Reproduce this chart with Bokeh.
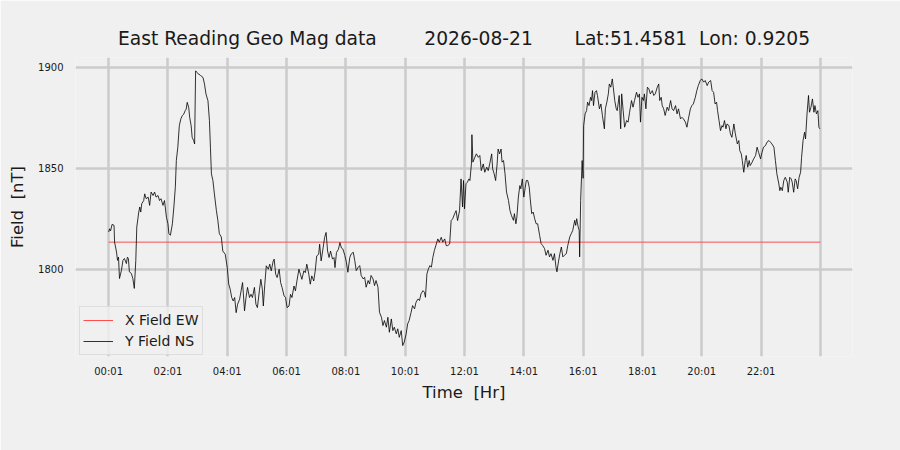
from bokeh.plotting import figure
from bokeh.models import Range1d, FixedTicker
from bokeh.embed import file_html
from bokeh.resources import INLINE

NB = "\u00a0"
title_text = ("East Reading Geo Mag data" + NB * 8 + "2026-08-21" + NB * 7 +
              "Lat:51.4581" + NB * 2 + "Lon: 0.9205")

# Tick positions (minutes after 00:01) and labels
tick_minutes = [0, 120, 240, 360, 480, 600, 720, 840, 960, 1080, 1200, 1320, 1440]
tick_labels = ["00:01", "02:01", "04:01", "06:01", "08:01", "10:01", "12:01",
               "14:01", "16:01", "18:01", "20:01", "22:01", ""]
y_ticks = [1800, 1850, 1900]

# X Field EW (constant reference line)
x_field_minutes = [0, 1440]
x_field_values = [1813.4, 1813.4]

# Y Field NS trace, minutes after 00:01 and nT values
y_field_minutes = [
    0, 2, 4, 7, 11, 12, 16, 18, 20, 22, 26, 29, 32, 36, 38, 40, 42, 46, 49, 52,
    55, 57, 61, 63, 65, 67, 71, 73, 76, 80, 83, 86, 90, 93, 96, 100, 103, 106, 110, 113,
    117, 120, 122, 125, 129, 132, 135, 137, 140, 143, 146, 149, 152, 155, 157, 159, 162, 164, 167, 169,
    172, 174, 176, 179, 182, 185, 187, 191, 194, 197, 201, 204, 206, 208, 211, 214, 218, 221, 224, 228,
    231, 236, 240, 243, 246, 249, 252, 255, 258, 261, 265, 268, 271, 275, 278, 281, 285, 288, 291, 295,
    298, 301, 305, 308, 311, 313, 316, 319, 323, 326, 329, 333, 335, 338, 341, 345, 348, 351, 355, 358,
    361, 365, 368, 371, 375, 378, 381, 385, 388, 391, 395, 398, 401, 405, 408, 411, 415, 418, 421, 425,
    427, 430, 433, 437, 440, 443, 446, 449, 453, 456, 458, 461, 465, 468, 471, 474, 478, 481, 484, 488,
    491, 495, 498, 501, 505, 508, 511, 515, 518, 521, 525, 528, 531, 535, 538, 541, 545, 548, 552, 555,
    558, 562, 565, 568, 572, 575, 578, 582, 585, 588, 592, 595, 598, 602, 605, 608, 612, 615, 619, 622,
    626, 629, 632, 636, 639, 641, 644, 647, 650, 653, 656, 659, 663, 666, 669, 673, 676, 680, 683, 686,
    690, 693, 696, 700, 703, 706, 710, 713, 714, 716, 718, 720, 723, 726, 729, 731, 734, 735, 737, 741,
    744, 748, 751, 754, 758, 761, 765, 768, 771, 775, 777, 780, 783, 786, 788, 791, 794, 796, 799, 802,
    805, 809, 812, 815, 819, 821, 824, 826, 829, 832, 834, 837, 840, 843, 845, 848, 851, 853, 856, 859,
    862, 865, 868, 872, 875, 878, 882, 885, 889, 892, 895, 899, 902, 905, 907, 910, 913, 916, 919, 922,
    926, 929, 933, 936, 939, 943, 945, 947, 950, 952, 953, 955, 958, 960, 961, 964, 967, 969, 972, 975,
    977, 979, 981, 984, 987, 989, 993, 996, 999, 1003, 1005, 1008, 1011, 1013, 1016, 1019, 1021, 1024, 1027, 1029,
    1033, 1036, 1038, 1041, 1044, 1048, 1051, 1054, 1058, 1061, 1064, 1068, 1071, 1074, 1076, 1079, 1082, 1084, 1087, 1090,
    1093, 1096, 1100, 1103, 1106, 1110, 1113, 1115, 1118, 1120, 1123, 1126, 1130, 1133, 1137, 1140, 1143, 1147, 1150, 1153,
    1157, 1160, 1163, 1167, 1170, 1173, 1177, 1180, 1183, 1187, 1190, 1193, 1197, 1200, 1204, 1207, 1211, 1214, 1218, 1221,
    1224, 1227, 1230, 1232, 1235, 1238, 1241, 1243, 1246, 1249, 1251, 1255, 1258, 1261, 1265, 1268, 1272, 1275, 1277, 1280,
    1282, 1285, 1288, 1290, 1293, 1296, 1298, 1302, 1305, 1309, 1312, 1315, 1319, 1322, 1325, 1329, 1332, 1336, 1339, 1342,
    1346, 1349, 1352, 1356, 1358, 1360, 1363, 1366, 1369, 1373, 1375, 1378, 1381, 1383, 1386, 1389, 1391, 1394, 1397, 1400,
    1402, 1405, 1408, 1410, 1413, 1416, 1418, 1421, 1424, 1427, 1429, 1432, 1435, 1437, 1439,
]
y_field_values = [
    1818.4, 1820.0, 1819.0, 1822.2, 1821.7, 1813.5, 1808.5, 1804.4, 1806.0, 1795.4, 1799.5, 1804.4, 1805.3, 1802.8, 1806.0, 1805.3, 1798.7, 1797.9, 1795.4, 1790.5,
    1804.4, 1820.9, 1828.3, 1830.8, 1828.3, 1832.4, 1834.0, 1837.3, 1834.9, 1835.7, 1831.6, 1838.2, 1836.5, 1838.2, 1835.7, 1836.5, 1834.0, 1834.9, 1831.6, 1834.0,
    1825.8, 1822.5, 1817.6, 1816.8, 1822.5, 1830.8, 1840.6, 1853.8, 1860.4, 1871.0, 1874.3, 1876.0, 1876.8, 1878.5, 1879.3, 1882.6, 1880.1, 1875.2, 1871.0, 1865.3,
    1863.7, 1862.0, 1898.2, 1897.4, 1896.5, 1896.2, 1895.7, 1894.9, 1891.6, 1886.7, 1883.4, 1873.5, 1860.4, 1847.2, 1843.9, 1837.3, 1829.1, 1824.2, 1817.6, 1816.0,
    1809.0, 1807.4, 1800.8, 1792.6, 1790.1, 1786.0, 1784.3, 1786.0, 1778.5, 1782.7, 1785.1, 1789.3, 1793.4, 1779.4, 1786.0, 1791.0, 1786.0, 1787.6, 1786.0, 1791.0,
    1782.7, 1781.0, 1789.3, 1795.0, 1790.1, 1781.8, 1792.6, 1801.7, 1800.0, 1802.5, 1799.2, 1804.1, 1805.0, 1797.5, 1795.9, 1800.0, 1793.4, 1790.9, 1786.8, 1786.0,
    1781.0, 1781.8, 1787.6, 1786.0, 1791.7, 1789.3, 1794.2, 1800.0, 1797.5, 1795.0, 1799.2, 1798.3, 1802.5, 1797.5, 1792.6, 1796.7, 1794.2, 1799.2, 1806.6, 1807.4,
    1812.4, 1804.1, 1809.0, 1815.7, 1818.2, 1809.0, 1805.8, 1809.0, 1805.0, 1805.8, 1800.8, 1808.3, 1809.9, 1813.2, 1810.5, 1810.0, 1806.8, 1803.5, 1798.5, 1805.9,
    1807.6, 1808.4, 1804.3, 1799.3, 1801.0, 1801.8, 1796.9, 1795.2, 1796.0, 1791.1, 1794.4, 1792.7, 1796.9, 1795.2, 1791.9, 1794.4, 1791.1, 1778.7, 1776.2, 1772.1,
    1774.6, 1771.3, 1776.2, 1768.8, 1775.4, 1769.6, 1771.3, 1768.0, 1770.5, 1766.3, 1769.6, 1762.2, 1763.9, 1768.0, 1772.9, 1774.6, 1778.7, 1782.0, 1780.4, 1783.7,
    1785.3, 1784.5, 1787.8, 1789.4, 1788.6, 1786.1, 1797.7, 1800.2, 1801.8, 1801.0, 1805.9, 1809.2, 1812.5, 1815.0, 1813.4, 1815.8, 1813.4, 1815.0, 1811.7, 1811.7,
    1812.5, 1824.1, 1824.9, 1827.4, 1829.0, 1824.1, 1829.0, 1844.7, 1840.6, 1830.8, 1843.9, 1829.9, 1842.3, 1843.1, 1844.7, 1843.9, 1852.1, 1866.6, 1853.0, 1855.4,
    1857.1, 1855.4, 1856.3, 1848.8, 1852.1, 1848.0, 1850.5, 1848.8, 1852.1, 1857.1, 1849.7, 1847.2, 1843.9, 1852.1, 1859.5, 1857.1, 1859.5, 1853.0, 1853.8, 1847.2,
    1838.2, 1834.0, 1829.1, 1826.6, 1824.2, 1827.5, 1822.5, 1825.8, 1835.7, 1841.4, 1839.8, 1844.7, 1835.7, 1840.6, 1843.9, 1843.9, 1840.6, 1834.9, 1827.5, 1828.3,
    1825.0, 1822.5, 1822.5, 1816.8, 1812.7, 1811.8, 1810.2, 1806.9, 1809.4, 1806.1, 1807.7, 1804.4, 1807.7, 1801.2, 1798.7, 1803.6, 1807.7, 1811.0, 1806.1, 1806.9,
    1807.7, 1811.8, 1816.0, 1817.6, 1819.2, 1824.2, 1821.7, 1825.0, 1820.9, 1819.2, 1806.1, 1834.0, 1853.8, 1845.0, 1871.0, 1876.9, 1878.5, 1882.7, 1881.0, 1885.1,
    1883.5, 1888.4, 1881.0, 1887.6, 1888.4, 1886.0, 1879.4, 1881.8, 1876.1, 1869.5, 1879.4, 1882.7, 1886.8, 1891.7, 1890.1, 1894.2, 1890.1, 1883.5, 1879.4, 1878.5,
    1886.0, 1869.5, 1886.8, 1878.5, 1870.3, 1873.6, 1872.8, 1877.7, 1883.5, 1880.2, 1883.5, 1887.6, 1885.1, 1886.8, 1872.8, 1885.1, 1883.5, 1886.8, 1879.4, 1890.1,
    1889.3, 1886.8, 1888.4, 1886.0, 1886.8, 1890.1, 1891.7, 1883.5, 1885.1, 1881.0, 1879.4, 1876.1, 1880.2, 1878.5, 1883.5, 1879.4, 1878.5, 1881.0, 1876.9, 1879.4,
    1874.4, 1875.2, 1874.4, 1872.8, 1870.3, 1874.4, 1879.4, 1881.0, 1881.8, 1885.1, 1888.4, 1890.9, 1893.4, 1894.2, 1892.6, 1893.4, 1890.9, 1892.6, 1893.4, 1888.4,
    1887.6, 1881.8, 1882.7, 1878.5, 1873.6, 1868.6, 1871.1, 1870.3, 1873.6, 1869.5, 1871.9, 1871.1, 1867.0, 1865.3, 1871.9, 1867.0, 1862.0, 1863.7, 1858.7, 1857.1,
    1853.8, 1848.0, 1853.8, 1856.3, 1850.5, 1853.8, 1851.3, 1853.0, 1854.6, 1856.3, 1860.4, 1857.9, 1854.6, 1857.9, 1860.4, 1861.2, 1862.9, 1863.7, 1862.9, 1862.0,
    1860.4, 1853.8, 1847.2, 1842.2, 1838.9, 1840.6, 1838.9, 1843.9, 1845.5, 1843.1, 1838.1, 1845.5, 1844.7, 1843.1, 1838.1, 1844.7, 1843.9, 1839.8, 1845.5, 1848.0,
    1855.4, 1863.7, 1867.8, 1864.5, 1876.9, 1886.0, 1877.7, 1880.2, 1884.3, 1877.7, 1881.0, 1876.9, 1878.5, 1870.3, 1869.5,
]

FONT = "DejaVu Sans"
BG = "#f0f0f0"
TXT = "#1a1a1a"

p = figure(width=900, height=450, output_backend="svg", toolbar_location=None,
           x_range=Range1d(-67, 1505), y_range=Range1d(1756.8, 1904.8),
           background_fill_color=BG, border_fill_color=BG, outline_line_color=None,
           min_border_left=75, min_border_right=48, min_border_top=57, min_border_bottom=94,
           title=title_text)

p.title.text_font = FONT
p.title.text_font_size = "18.7px"
p.title.text_font_style = "normal"
p.title.text_color = TXT
p.title.align = "center"
p.title.standoff = 18

p.line(x_field_minutes, x_field_values, line_color="#ff4d4d", line_width=1.0,
       legend_label="X Field EW")
p.line(y_field_minutes, y_field_values, line_color="black", line_width=0.8,
       legend_label="Y Field NS")

p.xaxis.ticker = FixedTicker(ticks=tick_minutes)
p.xaxis.major_label_overrides = {t: l for t, l in zip(tick_minutes, tick_labels)}
p.yaxis.ticker = FixedTicker(ticks=y_ticks)
p.yaxis.major_label_overrides = {t: str(t) for t in y_ticks}

for ax in (p.xaxis[0], p.yaxis[0]):
    ax.axis_line_color = None
    ax.major_tick_line_color = None
    ax.minor_tick_line_color = None
    ax.major_tick_out = 0
    ax.major_tick_in = 0
    ax.major_label_text_font = FONT
    ax.major_label_text_font_size = "10px"
    ax.major_label_text_color = TXT
    ax.axis_label_text_font = FONT
    ax.axis_label_text_font_size = "16.5px"
    ax.axis_label_text_font_style = "normal"
    ax.axis_label_text_color = TXT

p.xaxis.axis_label = "Time" + NB * 2 + "[Hr]"
p.yaxis.axis_label = "Field" + NB * 2 + "[nT]"
p.xaxis.major_label_standoff = 9
p.xaxis.axis_label_standoff = 3
p.yaxis.major_label_standoff = 12
p.yaxis.axis_label_standoff = 8

p.grid.grid_line_color = "#cbcbcb"
p.grid.grid_line_width = 2.5

lg = p.legend[0]
lg.location = (4, 1)
lg.margin = 0
lg.padding = 3
lg.spacing = 1
lg.label_text_font = FONT
lg.label_text_font_size = "14px"
lg.label_text_color = TXT
lg.label_height = 20
lg.glyph_height = 20
lg.glyph_width = 30
lg.label_standoff = 12
lg.border_line_color = "#cccccc"
lg.border_line_width = 1
lg.background_fill_color = BG
lg.background_fill_alpha = 0.8

open("out.html", "w").write(file_html(p, INLINE))
